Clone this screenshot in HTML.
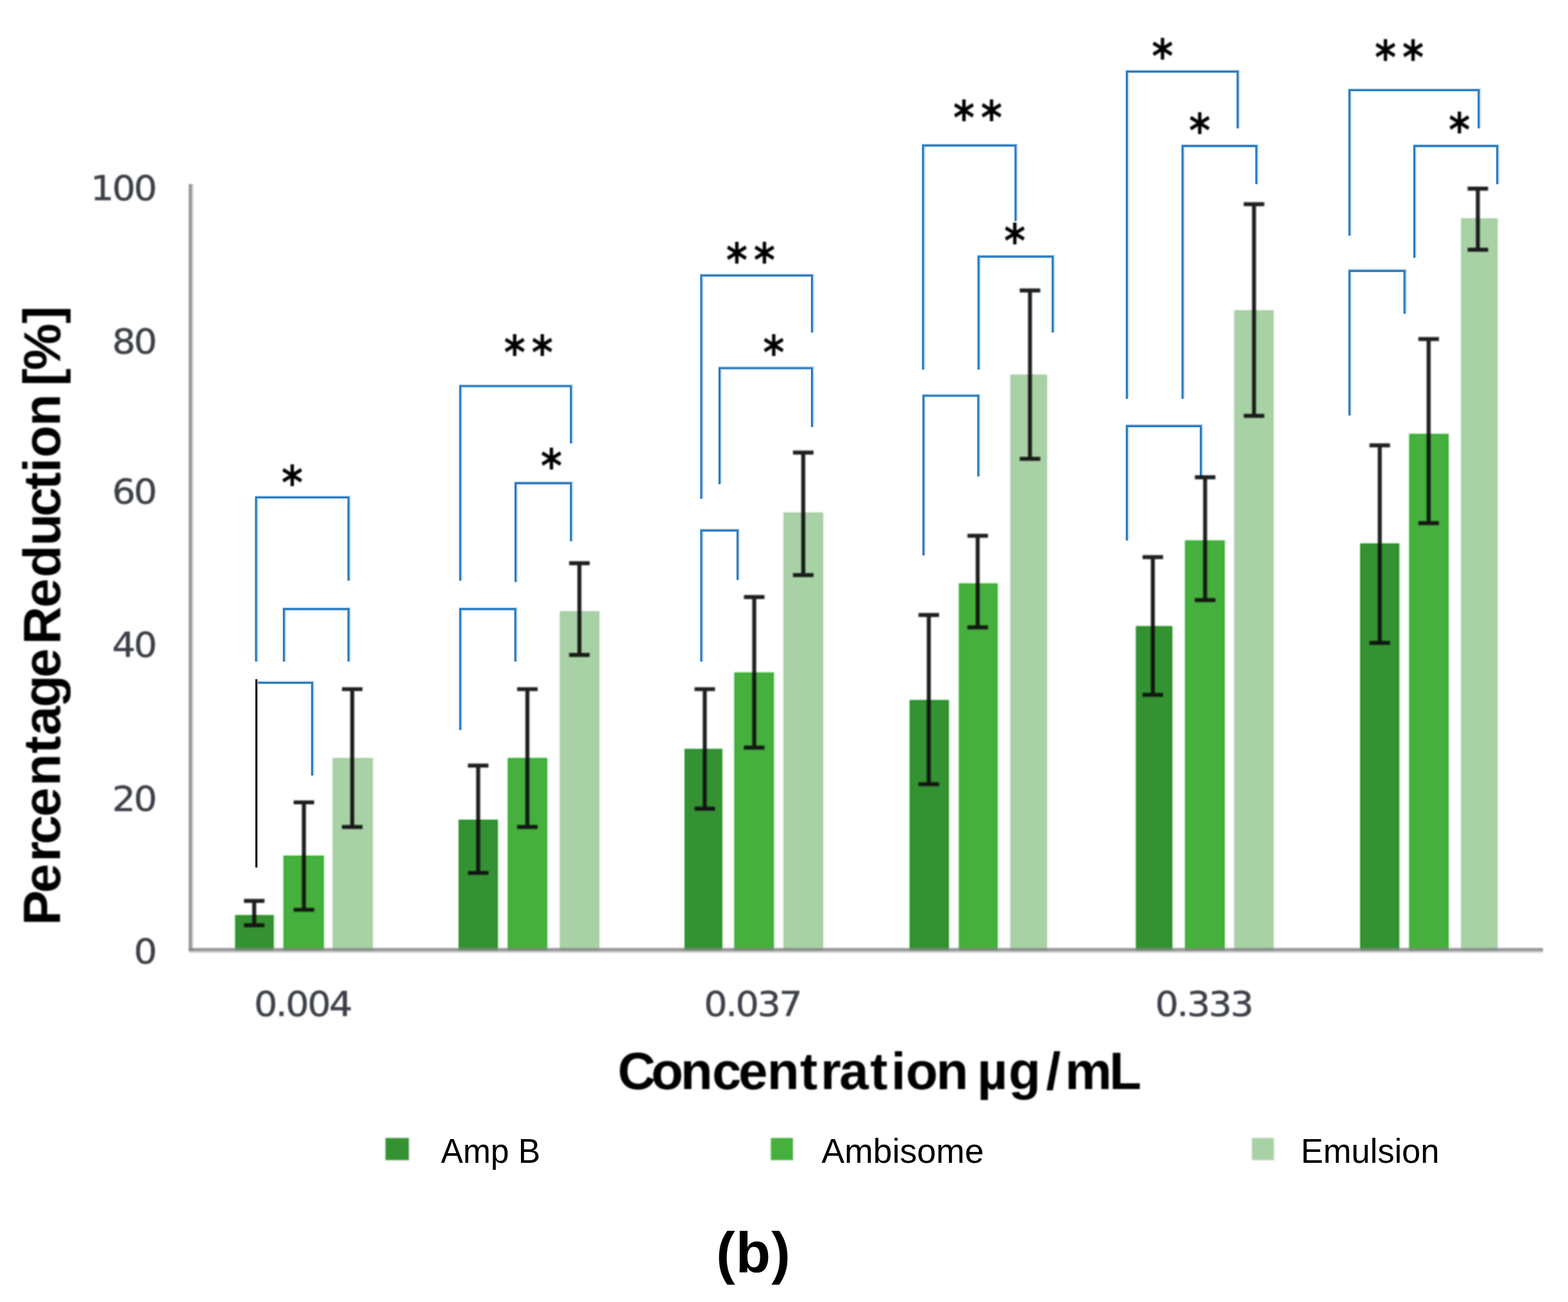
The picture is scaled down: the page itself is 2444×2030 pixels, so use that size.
<!DOCTYPE html>
<html lang="en">
<head>
<meta charset="utf-8">
<title>(b)</title>
<style>
html,body{margin:0;padding:0;background:#fff;}
body{width:2444px;height:2030px;overflow:hidden;}
svg{display:block;}
text{font-family:"Liberation Sans","DejaVu Sans",sans-serif;}
.tick{font-family:"DejaVu Sans","Liberation Sans",sans-serif;font-size:53px;letter-spacing:-2.5px;fill:#3c4148;stroke:#3c4148;stroke-width:0.5px;}
.ttl{font-weight:bold;font-size:82px;fill:#000;}
.leg{font-size:53px;fill:#000;}
.star{font-family:"DejaVu Sans","Liberation Sans",sans-serif;font-weight:bold;font-size:64px;fill:#000;}
</style>
</head>
<body>
<svg width="2444" height="2030" viewBox="0 0 2444 2030">
<defs>
<filter id="b12" x="-5%" y="-5%" width="110%" height="110%"><feGaussianBlur stdDeviation="1.2"/></filter>
<filter id="b10" x="-5%" y="-5%" width="110%" height="110%"><feGaussianBlur stdDeviation="1.0"/></filter>
<filter id="b08" x="-5%" y="-5%" width="110%" height="110%"><feGaussianBlur stdDeviation="0.8"/></filter>
<filter id="b05" x="-5%" y="-5%" width="110%" height="110%"><feGaussianBlur stdDeviation="0.7"/></filter>
</defs>
<rect x="0" y="0" width="2444" height="2030" fill="#ffffff"/>

<g id="bars" filter="url(#b12)" stroke-width="2">
<rect x="367.5" y="1427.7" width="58.2" height="54.3" fill="#359232" stroke="#158c15"/>
<rect x="442.8" y="1335.0" width="61.0" height="147.0" fill="#44b03c" stroke="#2cab2a"/>
<rect x="519.5" y="1182.7" width="60.7" height="299.3" fill="#a9d1a6" stroke="#a0cc9d"/>
<rect x="715.8" y="1279.0" width="59.2" height="203.0" fill="#359232" stroke="#158c15"/>
<rect x="792.3" y="1182.7" width="59.7" height="299.3" fill="#44b03c" stroke="#2cab2a"/>
<rect x="873.5" y="954.0" width="59.8" height="528.0" fill="#a9d1a6" stroke="#a0cc9d"/>
<rect x="1068.0" y="1168.6" width="56.8" height="313.4" fill="#359232" stroke="#158c15"/>
<rect x="1145.5" y="1049.4" width="59.8" height="432.6" fill="#44b03c" stroke="#2cab2a"/>
<rect x="1222.2" y="800.0" width="59.8" height="682.0" fill="#a9d1a6" stroke="#a0cc9d"/>
<rect x="1418.8" y="1092.4" width="59.2" height="389.6" fill="#359232" stroke="#158c15"/>
<rect x="1495.5" y="910.5" width="58.6" height="571.5" fill="#44b03c" stroke="#2cab2a"/>
<rect x="1575.8" y="585.0" width="55.2" height="897.0" fill="#a9d1a6" stroke="#a0cc9d"/>
<rect x="1771.5" y="977.2" width="54.8" height="504.8" fill="#359232" stroke="#158c15"/>
<rect x="1848.0" y="843.5" width="60.0" height="638.5" fill="#44b03c" stroke="#2cab2a"/>
<rect x="1924.8" y="484.7" width="59.5" height="997.3" fill="#a9d1a6" stroke="#a0cc9d"/>
<rect x="2121.0" y="848.3" width="59.0" height="633.7" fill="#359232" stroke="#158c15"/>
<rect x="2197.4" y="677.4" width="59.6" height="804.6" fill="#44b03c" stroke="#2cab2a"/>
<rect x="2278.3" y="341.4" width="55.1" height="1140.6" fill="#a9d1a6" stroke="#a0cc9d"/>
</g>
<g id="axes" fill="none" filter="url(#b10)">
<line x1="294.5" y1="1483.7" x2="2405" y2="1483.7" stroke="#cdcdd4" stroke-width="3.4"/>
<line x1="299.5" y1="287" x2="299.5" y2="1483.0" stroke="#cdcdd4" stroke-width="3.4"/>
<line x1="296.6" y1="287" x2="296.6" y2="1483.0" stroke="#989898" stroke-width="5"/>
<line x1="294.1" y1="1480.5" x2="2405" y2="1480.5" stroke="#858585" stroke-opacity="0.82" stroke-width="5"/>
</g>
<g id="bracket-halo" stroke="#cfe0f1" stroke-width="5.6" fill="none" stroke-linejoin="miter" transform="translate(0.9 -0.4)">
<path d="M399.1 1031.5V775.5H543.2V905.5"/>
<path d="M442.5 1031.5V949.7H543.2V1031.5"/>
<path d="M717.3 905.5V602.0H889.9V691.5"/>
<path d="M803.6 907.4V753.4H889.9V844.0"/>
<path d="M717.3 1138.2V949.7H803.2V1031.5"/>
<path d="M1093.0 777.8V429.5H1265.6V518.5"/>
<path d="M1121.5 754.9V574.0H1265.6V665.8"/>
<path d="M1093.0 1031.5V827.2H1149.6V904.2"/>
<path d="M1438.7 576.3V226.9H1582.9V344.7"/>
<path d="M1525.2 576.3V400.2H1640.8V518.5"/>
<path d="M1439.3 866.1V617.0H1524.8V742.8"/>
<path d="M1756.4 621.7V111.6H1929.1V200.2"/>
<path d="M1843.2 621.7V227.6H1958.2V287.3"/>
<path d="M1756.4 842.8V664.3H1871.7V745.7"/>
<path d="M2103.3 367.6V140.5H2304.8V200.2"/>
<path d="M2204.5 402.1V227.6H2333.7V287.3"/>
<path d="M2103.3 647.8V422.3H2189.2V489.2"/>
<path d="M399.4 1064.5H486.5V1209.3"/>
</g>
<g id="brackets" stroke="#2a7cc0" stroke-width="3.2" fill="none" stroke-linejoin="miter">
<path d="M399.1 1031.5V775.5H543.2V905.5"/>
<path d="M442.5 1031.5V949.7H543.2V1031.5"/>
<path d="M717.3 905.5V602.0H889.9V691.5"/>
<path d="M803.6 907.4V753.4H889.9V844.0"/>
<path d="M717.3 1138.2V949.7H803.2V1031.5"/>
<path d="M1093.0 777.8V429.5H1265.6V518.5"/>
<path d="M1121.5 754.9V574.0H1265.6V665.8"/>
<path d="M1093.0 1031.5V827.2H1149.6V904.2"/>
<path d="M1438.7 576.3V226.9H1582.9V344.7"/>
<path d="M1525.2 576.3V400.2H1640.8V518.5"/>
<path d="M1439.3 866.1V617.0H1524.8V742.8"/>
<path d="M1756.4 621.7V111.6H1929.1V200.2"/>
<path d="M1843.2 621.7V227.6H1958.2V287.3"/>
<path d="M1756.4 842.8V664.3H1871.7V745.7"/>
<path d="M2103.3 367.6V140.5H2304.8V200.2"/>
<path d="M2204.5 402.1V227.6H2333.7V287.3"/>
<path d="M2103.3 647.8V422.3H2189.2V489.2"/>
<path d="M399.4 1064.5H486.5V1209.3"/>
</g>
<line x1="400.6" y1="1059" x2="400.6" y2="1352.5" stroke="#b0b0b0" stroke-width="3.4"/>
<line x1="399.4" y1="1059" x2="399.4" y2="1352.5" stroke="#000" stroke-width="2.6"/>
<g id="errorbars" stroke="#101010" stroke-opacity="0.93" stroke-width="6.2" fill="none" filter="url(#b10)">
<path d="M380.2 1404.6H412.2M396.2 1404.6V1442.7M380.2 1442.7H412.2"/>
<path d="M457.7 1251.0H489.7M473.7 1251.0V1418.5M457.7 1418.5H489.7"/>
<path d="M533.0 1074.5H565.0M549.0 1074.5V1289.3M533.0 1289.3H565.0"/>
<path d="M729.3 1193.7H761.3M745.3 1193.7V1361.0M729.3 1361.0H761.3"/>
<path d="M806.0 1074.5H838.0M822.0 1074.5V1289.3M806.0 1289.3H838.0"/>
<path d="M887.1 878.2H919.1M903.1 878.2V1021.1M887.1 1021.1H919.1"/>
<path d="M1082.5 1074.5H1114.5M1098.5 1074.5V1260.8M1082.5 1260.8H1114.5"/>
<path d="M1159.6 930.8H1191.6M1175.6 930.8V1165.6M1159.6 1165.6H1191.6"/>
<path d="M1236.0 705.6H1268.0M1252.0 705.6V896.7M1236.0 896.7H1268.0"/>
<path d="M1431.7 958.9H1463.7M1447.7 958.9V1222.6M1431.7 1222.6H1463.7"/>
<path d="M1507.9 835.3H1539.9M1523.9 835.3V978.2M1507.9 978.2H1539.9"/>
<path d="M1589.4 452.8H1621.4M1605.4 452.8V715.3M1589.4 715.3H1621.4"/>
<path d="M1780.9 868.6H1812.9M1796.9 868.6V1083.3M1780.9 1083.3H1812.9"/>
<path d="M1862.4 744.2H1894.4M1878.4 744.2V935.6M1862.4 935.6H1894.4"/>
<path d="M1938.6 318.3H1970.6M1954.6 318.3V648.3M1938.6 648.3H1970.6"/>
<path d="M2134.6 694.4H2166.6M2150.6 694.4V1002.3M2134.6 1002.3H2166.6"/>
<path d="M2210.8 528.7H2242.8M2226.8 528.7V815.6M2210.8 815.6H2242.8"/>
<path d="M2287.5 294.2H2319.5M2303.5 294.2V389.4M2287.5 389.4H2319.5"/>
</g>
<g id="stars" filter="url(#b12)">
<text class="star" transform="translate(0 740.2) scale(1 1.13)" x="455.6" y="33.2" text-anchor="middle">*</text>
<text class="star" transform="translate(0 537.6) scale(1 1.13)" x="802.3 845.3" y="33.2" text-anchor="middle">**</text>
<text class="star" transform="translate(0 714.3) scale(1 1.13)" x="859.4" y="33.2" text-anchor="middle">*</text>
<text class="star" transform="translate(0 393.5) scale(1 1.13)" x="1148.5 1191.5" y="33.2" text-anchor="middle">**</text>
<text class="star" transform="translate(0 537.4) scale(1 1.13)" x="1206.0" y="33.2" text-anchor="middle">*</text>
<text class="star" transform="translate(0 171.6) scale(1 1.13)" x="1502.4 1545.4" y="33.2" text-anchor="middle">**</text>
<text class="star" transform="translate(0 363.2) scale(1 1.13)" x="1581.8" y="33.2" text-anchor="middle">*</text>
<text class="star" transform="translate(0 75.6) scale(1 1.13)" x="1812.0" y="33.2" text-anchor="middle">*</text>
<text class="star" transform="translate(0 191.4) scale(1 1.13)" x="1870.0" y="33.2" text-anchor="middle">*</text>
<text class="star" transform="translate(0 77.7) scale(1 1.13)" x="2159.4 2202.4" y="33.2" text-anchor="middle">**</text>
<text class="star" transform="translate(0 190.3) scale(1 1.13)" x="2274.8" y="33.2" text-anchor="middle">*</text>
</g>
<g id="yticks" filter="url(#b08)">
<text class="tick" transform="translate(242.5 311.5) scale(1.085 1)" x="0" y="0" text-anchor="end">100</text>
<text class="tick" transform="translate(242.5 550.5) scale(1.085 1)" x="0" y="0" text-anchor="end">80</text>
<text class="tick" transform="translate(242.5 784.5) scale(1.085 1)" x="0" y="0" text-anchor="end">60</text>
<text class="tick" transform="translate(242.5 1023.5) scale(1.085 1)" x="0" y="0" text-anchor="end">40</text>
<text class="tick" transform="translate(242.5 1264.0) scale(1.085 1)" x="0" y="0" text-anchor="end">20</text>
<text class="tick" transform="translate(242.5 1501.5) scale(1.085 1)" x="0" y="0" text-anchor="end">0</text>
</g>
<g id="xticks" filter="url(#b08)">
<text class="tick" transform="translate(471.4 1584) scale(1.085 1)" x="0" y="0" text-anchor="middle">0.004</text>
<text class="tick" transform="translate(1172.7 1584) scale(1.085 1)" x="0" y="0" text-anchor="middle">0.037</text>
<text class="tick" transform="translate(1876.0 1584) scale(1.085 1)" x="0" y="0" text-anchor="middle">0.333</text>
</g>
<g id="titles" filter="url(#b08)" class="ttl">
<text x="962.7 1015.0 1060.8 1110.0 1150.9 1195.8 1247.0 1279.1 1308.2 1356.3 1389.0 1411.8 1459.2 1509.3 1523.3 1571.9 1630.6 1660.1 1728.9" y="1698">Concentration µg/mL</text>
<text transform="translate(93.5 0) rotate(-90)" x="-1442.7 -1392.2 -1343.7 -1316.5 -1273.4 -1225.6 -1174.8 -1146.5 -1102.8 -1056.5 -1010.8 -1004.7 -947.5 -900.3 -851.0 -805.4 -763.6 -736.7 -713.5 -664.5 -614.4 -601.8 -577.3 -504.5" y="0">Percentage Reduction [%]</text>
</g>
<g id="legend-swatches" filter="url(#b12)">
<rect x="600.8" y="1774.3" width="36.5" height="34.5" fill="#359232"/>
<rect x="1201.5" y="1774.3" width="34.5" height="34.5" fill="#44b03c"/>
<rect x="1951.2" y="1774.3" width="34.5" height="34.5" fill="#a9d1a6"/>
</g>
<g id="legend">
<text class="leg" x="687.2" y="1813" textLength="155" lengthAdjust="spacingAndGlyphs">Amp B</text>
<text class="leg" x="1280.5" y="1813" textLength="253" lengthAdjust="spacingAndGlyphs">Ambisome</text>
<text class="leg" x="2027.5" y="1813" textLength="216" lengthAdjust="spacingAndGlyphs">Emulsion</text>
</g>
<text x="1174.5" y="1983.5" text-anchor="middle" filter="url(#b05)" style="font-weight:bold;font-size:89px;letter-spacing:1px;fill:#000">(b)</text>
</svg>
</body>
</html>
